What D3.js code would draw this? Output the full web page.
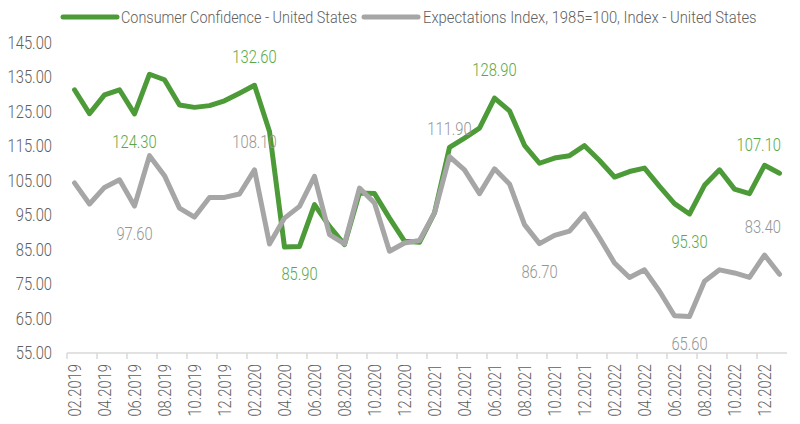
<!DOCTYPE html>
<html>
<head>
<meta charset="utf-8">
<script src="https://cdn.jsdelivr.net/npm/d3@7"></script>
<style>
  body { margin: 0; background: #fff; }
  svg text { font-family: Roboto, "Noto Sans", sans-serif; font-weight: 300; }
</style>
</head>
<body>
<svg id="chart" width="800" height="424"></svg>
<script>
// Data
const months = [
  "02.2019","03.2019","04.2019","05.2019","06.2019","07.2019","08.2019","09.2019","10.2019","11.2019","12.2019",
  "01.2020","02.2020","03.2020","04.2020","05.2020","06.2020","07.2020","08.2020","09.2020","10.2020","11.2020","12.2020",
  "01.2021","02.2021","03.2021","04.2021","05.2021","06.2021","07.2021","08.2021","09.2021","10.2021","11.2021","12.2021",
  "01.2022","02.2022","03.2022","04.2022","05.2022","06.2022","07.2022","08.2022","09.2022","10.2022","11.2022","12.2022",
  "01.2023"
];
const confidence = [
  131.3, 124.4, 129.8, 131.3, 124.3, 135.8, 134.2, 126.9, 126.2, 126.7, 128.1,
  130.3, 132.6, 119.2, 85.7, 85.9, 98.0, 91.7, 86.4, 101.4, 101.2, 94.1, 87.4,
  87.1, 95.6, 114.6, 117.3, 120.2, 128.9, 125.2, 115.2, 110.0, 111.5, 112.2, 115.1,
  110.8, 106.0, 107.6, 108.6, 103.3, 98.3, 95.3, 103.6, 108.1, 102.5, 101.2, 109.4,
  107.1
];
const expectations = [
  104.3, 98.2, 103.0, 105.2, 97.6, 112.2, 106.4, 97.0, 94.4, 100.1, 100.1,
  101.1, 108.1, 86.6, 94.1, 97.5, 106.2, 89.3, 86.6, 102.8, 98.5, 84.5, 86.9,
  87.6, 95.6, 111.9, 108.1, 101.2, 108.4, 104.0, 92.2, 86.7, 89.1, 90.3, 95.3,
  88.4, 81.1, 76.9, 79.1, 72.9, 65.8, 65.6, 75.8, 79.1, 78.2, 76.9, 83.4,
  77.8
];
const yTicks = [55, 65, 75, 85, 95, 105, 115, 125, 135, 145];
// labelled points: month index and side of the line
const confidenceLabels = [[4, "below"], [12, "above"], [15, "below"], [28, "above"], [41, "below"], [47, "above"]];
const expectationsLabels = [[4, "below"], [12, "above"], [25, "above"], [31, "below"], [41, "below"], [46, "above"]];

const series = [
  { name: "Consumer Confidence - United States", values: confidence, labels: confidenceLabels,
    color: "#4c9b38", labelColor: "#5aa845" },
  { name: "Expectations Index, 1985=100, Index - United States", values: expectations, labels: expectationsLabels,
    color: "#a6a6a6", labelColor: "#959595" }
];

// Setup
const svg = d3.select("#chart");
const plotLeft = 67, plotRight = 787, plotTop = 42.5, plotBottom = 353;
const squeeze = 0.82;       // narrow look of the original font
const textGrey = "#606060";

const x = d3.scaleBand().domain(months).range([plotLeft, plotRight]);
const y = d3.scaleLinear().domain([55, 145]).range([plotBottom, plotTop]);
const cx = m => x(m) + x.bandwidth() / 2;

function squeezedText(g, px, py, str, opts = {}) {
  const t = g.append("text")
    .attr("transform", `translate(${px},${py})${opts.rotate ? " rotate(-90)" : ""} scale(${squeeze},1)`)
    .attr("font-size", opts.size || 18)
    .attr("fill", opts.fill || textGrey)
    .attr("text-anchor", opts.anchor || "middle")
    .attr("dominant-baseline", "central")
    .text(str);
  return t;
}

// Y axis labels (no axis line)
const yg = svg.append("g");
yTicks.forEach(v => squeezedText(yg, 52, y(v), v.toFixed(2), { anchor: "end" }));

// X axis
const xg = svg.append("g").attr("stroke", "#d9d9d9").attr("stroke-width", 1.5);
xg.append("line").attr("x1", plotLeft).attr("x2", plotRight)
  .attr("y1", plotBottom).attr("y2", plotBottom);
months.forEach((m, i) => {
  if (i % 2 === 0) {
    xg.append("line").attr("x1", x(m)).attr("x2", x(m))
      .attr("y1", plotBottom).attr("y2", plotBottom + 6);
  }
});
const xl = svg.append("g");
months.forEach((m, i) => {
  if (i % 2 === 0) squeezedText(xl, cx(m), 364, m, { rotate: true, anchor: "end", size: 18 });
});

// Lines
const line = d3.line()
  .x((d, i) => cx(months[i]))
  .y(d => y(d));

series.forEach(s => {
  svg.append("path")
    .datum(s.values)
    .attr("d", line)
    .attr("fill", "none")
    .attr("stroke", s.color)
    .attr("stroke-width", 5)
    .attr("stroke-linejoin", "round")
    .attr("stroke-linecap", "round");
});

// Data labels
const lg = svg.append("g");
series.forEach(s => {
  s.labels.forEach(([i, side]) => {
    const v = s.values[i];
    let px = cx(months[i]);
    const py = y(v) + (side === "above" ? -28 : 28);
    const t = squeezedText(lg, px, py, v.toFixed(2), { fill: s.labelColor });
    const w = t.node().getBBox().width * squeeze;
    if (px + w / 2 > 781) {
      px = 781 - w / 2;
      t.attr("transform", `translate(${px},${py}) scale(${squeeze},1)`);
    }
  });
});

// Legend
const legend = svg.append("g");
const legendItems = [
  { s: series[0], x0: 63, x1: 117, tx: 121, tw: 236 },
  { s: series[1], x0: 364, x1: 418, tx: 423, tw: 334 }
];
legendItems.forEach(d => {
  legend.append("line")
    .attr("x1", d.x0).attr("x2", d.x1).attr("y1", 17).attr("y2", 17)
    .attr("stroke", d.s.color).attr("stroke-width", 5).attr("stroke-linecap", "round");
  const t = legend.append("text")
    .attr("font-size", 17)
    .attr("fill", textGrey)
    .attr("dominant-baseline", "central")
    .text(d.s.name);
  const k = d.tw / t.node().getBBox().width;
  t.attr("transform", `translate(${d.tx},17.5) scale(${k},1)`);
});
</script>
</body>
</html>
